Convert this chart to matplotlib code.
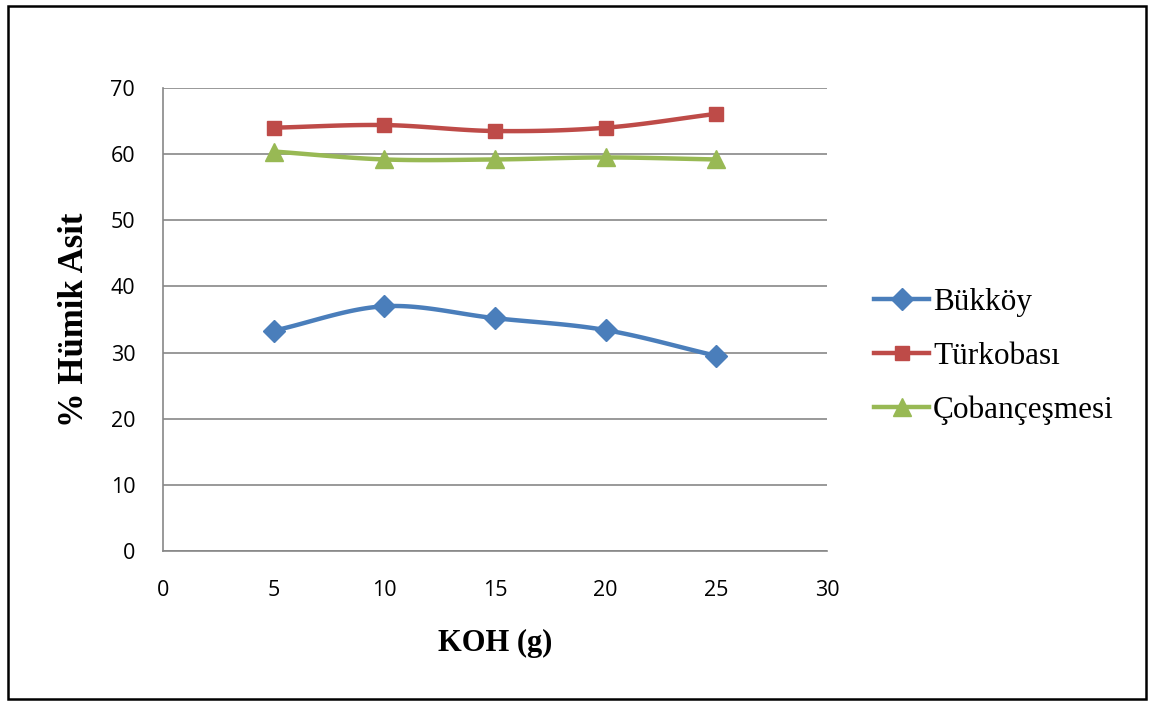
import numpy as np
import matplotlib
matplotlib.use("Agg")
import matplotlib.pyplot as plt
from matplotlib.patches import Rectangle

koh = [5, 10, 15, 20, 25]
bukkoy = [33.3, 37.0, 35.2, 33.4, 29.5]
turkobasi = [64.0, 64.4, 63.5, 64.0, 66.1]
cobancesmesi = [60.4, 59.2, 59.2, 59.5, 59.2]

series_names = ["Bükköy", "Türkobası", "Çobançeşmesi"]
colors = ["#4A7EBB", "#BE4B48", "#98B954"]
markers = ["D", "s", "^"]
xticks = [0, 5, 10, 15, 20, 25, 30]
yticks = [0, 10, 20, 30, 40, 50, 60, 70]


def smooth(x, y, n=30):
    # catmull-rom curve through the points, like excel's smoothed line
    x = np.asarray(x, float)
    y = np.asarray(y, float)
    px = np.concatenate([[2 * x[0] - x[1]], x, [2 * x[-1] - x[-2]]])
    py = np.concatenate([[2 * y[0] - y[1]], y, [2 * y[-1] - y[-2]]])
    xs, ys = [], []
    t = np.linspace(0, 1, n)
    for i in range(1, len(px) - 2):
        for p, out in ((px, xs), (py, ys)):
            p0, p1, p2, p3 = p[i - 1], p[i], p[i + 1], p[i + 2]
            out.extend(0.5 * (2 * p1 + (-p0 + p2) * t
                              + (2 * p0 - 5 * p1 + 4 * p2 - p3) * t ** 2
                              + (-p0 + 3 * p1 - 3 * p2 + p3) * t ** 3))
    return xs, ys


fig = plt.figure(figsize=(11.56, 7.07), dpi=100)
ax = fig.add_axes([0.141, 0.2207, 0.5744, 0.6548])

for vals, name, c, m in zip([bukkoy, turkobasi, cobancesmesi], series_names, colors, markers):
    sx, sy = smooth(koh, vals)
    ax.plot(sx, sy, color=c, lw=3.2, solid_capstyle="round", zorder=3)
    ms = 11 if m == "D" else 10
    if m == "^":
        ms = 13
    ax.plot(koh, vals, linestyle="none", marker=m, color=c, markersize=ms, zorder=4)
    ax.plot([], [], color=c, lw=3.2, marker=m, markersize=ms, label=name)

ax.set_xlim(0, 30)
ax.set_ylim(0, 70)
ax.set_xticks(xticks)
ax.set_yticks(yticks)
ax.grid(axis="y", color="#878787", lw=1.2)
ax.set_axisbelow(True)
for s in ["top", "right"]:
    ax.spines[s].set_visible(False)
for s in ["left", "bottom"]:
    ax.spines[s].set_color("#878787")
    ax.spines[s].set_linewidth(1.2)
ax.tick_params(length=0, labelsize=15.5)
ax.tick_params(axis="x", pad=21)
ax.tick_params(axis="y", pad=20)
for lab in ax.get_xticklabels() + ax.get_yticklabels():
    lab.set_fontfamily("Open Sans")

ax.set_xlabel("KOH (g)", family="Liberation Serif", weight="bold", fontsize=22, labelpad=20)
ax.set_ylabel("% Hümik Asit", family="Liberation Serif", weight="bold", fontsize=25, labelpad=14)

ax.legend(loc="center left", bbox_to_anchor=(1.048, 0.42), frameon=False,
          prop={"family": "Liberation Serif", "size": 22.5}, handlelength=1.75,
          handletextpad=0.12, labelspacing=0.78, borderpad=0)

fig.patches.append(Rectangle((0.007, 0.011), 0.984, 0.981, transform=fig.transFigure,
                             fill=False, edgecolor="black", lw=1.8))

plt.savefig("out.png", dpi=100)
